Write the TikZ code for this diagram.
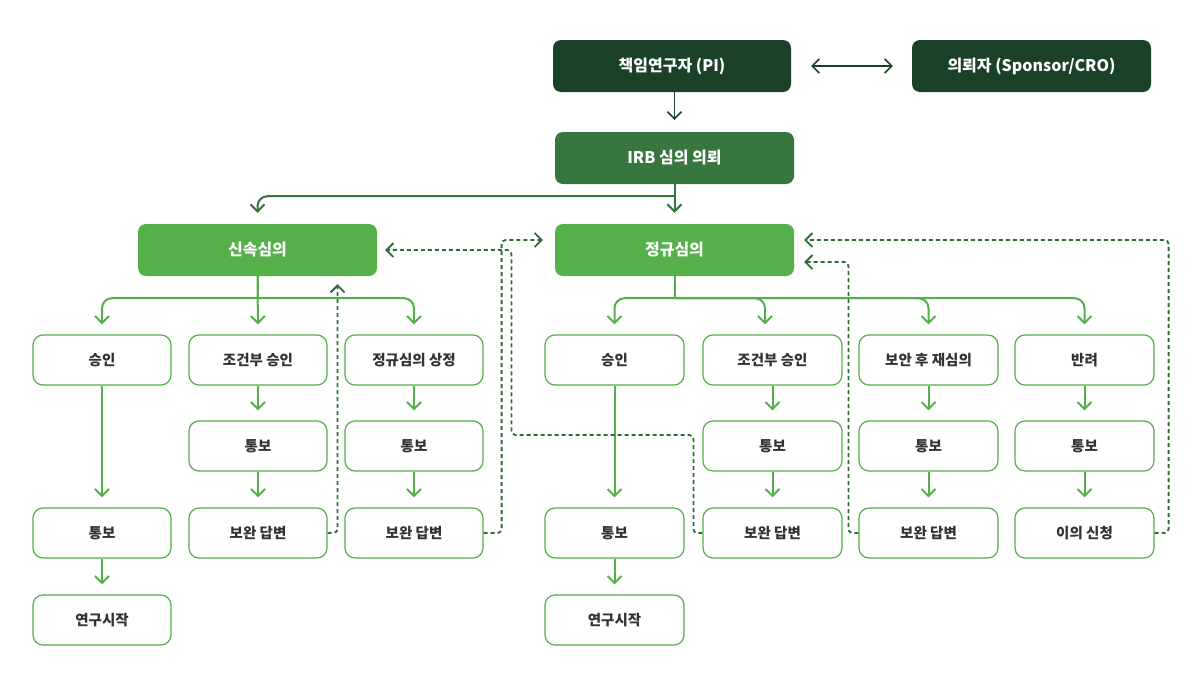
\documentclass[tikz,border=0pt]{standalone}
\usepackage{fontspec}
\setmainfont{Noto Sans CJK KR}
\usetikzlibrary{arrows.meta}
\definecolor{cDark}{HTML}{1B4227}
\definecolor{cMid}{HTML}{37773F}
\definecolor{cLight}{HTML}{55AF4A}
\definecolor{cDash}{HTML}{2E6B35}
\definecolor{cText}{HTML}{333333}
\tikzset{
  topbox/.style={rounded corners=8pt, minimum width=238pt, minimum height=52pt, text=white,
    font=\fontsize{16}{19}\selectfont\bfseries, inner sep=0pt},
  childbox/.style={draw=cLight, line width=1.2pt, fill=white, rounded corners=10pt,
    minimum width=138pt, minimum height=50pt, text=cText,
    font=\fontsize{14.5}{17}\selectfont\bfseries, inner sep=0pt},
  tip/.style={-{Straight Barb[length=7pt,width=14pt]}},
  darkarrow/.style={tip, draw=cDark, line width=1.6pt, shorten >=12pt},
  midline/.style={draw=cMid, line width=2pt},
  midarrow/.style={tip, draw=cMid, line width=2pt, shorten >=11pt, rounded corners=10pt},
  greenline/.style={draw=cLight, line width=2pt},
  greenarrow/.style={tip, draw=cLight, line width=2pt, shorten >=10pt, rounded corners=10pt},
  dasharrow/.style={tip, draw=cDash, line width=1.8pt, dash pattern=on 4pt off 3pt,
    rounded corners=4pt, shorten >=9pt},
}
\begin{document}
\begin{tikzpicture}[x=1pt,y=-1pt]
\useasboundingbox (0,0) rectangle (1200,686);
% top
\node[topbox, fill=cDark] (pi) at (672,66) {책임연구자 (PI)};
\node[topbox, fill=cDark, minimum width=239pt] (sp) at (1031.5,66) {의뢰자 (Sponsor/CRO)};
\node[topbox, fill=cMid, minimum width=239pt] (irb) at (674.5,158) {IRB 심의 의뢰};
\node[topbox, fill=cLight, minimum width=239pt] (fast) at (257.5,250) {신속심의};
\node[topbox, fill=cLight, minimum width=239pt] (reg) at (674.5,250) {정규심의};
% left column children
\node[childbox] (a1) at (102,360) {승인};
\node[childbox] (a2) at (258,360) {조건부 승인};
\node[childbox] (a3) at (414,360) {정규심의 상정};
\node[childbox] (a2b) at (258,446) {통보};
\node[childbox] (a3b) at (414,446) {통보};
\node[childbox] (a1c) at (102,533) {통보};
\node[childbox] (a2c) at (258,533) {보완 답변};
\node[childbox] (a3c) at (414,533) {보완 답변};
\node[childbox] (a1d) at (102,620) {연구시작};
% right column children
\node[childbox, minimum width=139pt] (b1) at (614.5,360) {승인};
\node[childbox, minimum width=139pt] (b2) at (772.5,360) {조건부 승인};
\node[childbox, minimum width=139pt] (b3) at (928.5,360) {보안 후 재심의};
\node[childbox, minimum width=139pt] (b4) at (1084.5,360) {반려};
\node[childbox, minimum width=139pt] (b2b) at (772.5,446) {통보};
\node[childbox, minimum width=139pt] (b3b) at (928.5,446) {통보};
\node[childbox, minimum width=139pt] (b4b) at (1084.5,446) {통보};
\node[childbox, minimum width=139pt] (b1c) at (614.5,533) {통보};
\node[childbox, minimum width=139pt] (b2c) at (772.5,533) {보완 답변};
\node[childbox, minimum width=139pt] (b3c) at (928.5,533) {보완 답변};
\node[childbox, minimum width=139pt] (b4c) at (1084.5,533) {이의 신청};
\node[childbox, minimum width=139pt] (b1d) at (614.5,620) {연구시작};
% junctions
\coordinate (ij) at ([yshift=-12pt]irb.south);
\coordinate (fj) at ([yshift=-22pt]fast.south);
\coordinate (rj) at ([yshift=-22pt]reg.south);
% top connectors
\draw[darkarrow, {Straight Barb[length=7pt,width=14pt]}-{Straight Barb[length=7pt,width=14pt]}, shorten <=20pt, shorten >=19pt] (pi) -- (sp);
\draw[darkarrow] (pi.south -| irb.north) -- (irb.north);
\draw[midline] (irb.south) -- (ij);
\draw[midarrow] (ij) -| (fast.north);
\draw[midarrow] (irb.south) -- (reg.north);
% fast children
\draw[greenline] (fast.south) -- (fj);
\draw[greenarrow] (fj) -| (a1.north);
\draw[greenarrow] (fast.south) -- (a2.north);
\draw[greenarrow] (fj) -| (a3.north);
\draw[greenarrow] (a1.south) -- (a1c.north);
\draw[greenarrow] (a1c.south) -- (a1d.north);
\draw[greenarrow] (a2.south) -- (a2b.north);
\draw[greenarrow] (a2b.south) -- (a2c.north);
\draw[greenarrow] (a3.south) -- (a3b.north);
\draw[greenarrow] (a3b.south) -- (a3c.north);
% regular children
\draw[greenline] (reg.south) -- (rj);
\draw[greenarrow] (rj) -| (b1.north);
\draw[greenarrow] (rj) -| ([xshift=-7.5pt]b2.north);
\draw[greenarrow] (rj) -| (b3.north);
\draw[greenarrow] (rj) -| (b4.north);
\draw[greenarrow] (b1.south) -- (b1c.north);
\draw[greenarrow] (b1c.south) -- (b1d.north);
\draw[greenarrow] (b2.south) -- (b2b.north);
\draw[greenarrow] (b2b.south) -- (b2c.north);
\draw[greenarrow] (b3.south) -- (b3b.north);
\draw[greenarrow] (b3b.south) -- (b3c.north);
\draw[greenarrow] (b4.south) -- (b4b.north);
\draw[greenarrow] (b4b.south) -- (b4c.north);
% dashed feedback
\draw[dasharrow, shorten >=8pt] (a2c.east) -| ([xshift=80pt]fast.south);
\draw[dasharrow, shorten >=12pt] (a3c.east) -- ++(18,0) |- ([yshift=10pt]reg.west);
\draw[dasharrow, shorten >=8pt] (b2c.west) -- ++(-9,0) -- ++(0,-98) -- ++(-182,0) |- (fast.east);
\draw[dasharrow, shorten >=10pt] (b3c.west) -- ++(-10,0) |- ([yshift=-12pt]reg.east);
\draw[dasharrow, shorten >=10pt] (b4c.east) -- ++(14,0) |- ([yshift=10pt]reg.east);
\end{tikzpicture}
\end{document}
